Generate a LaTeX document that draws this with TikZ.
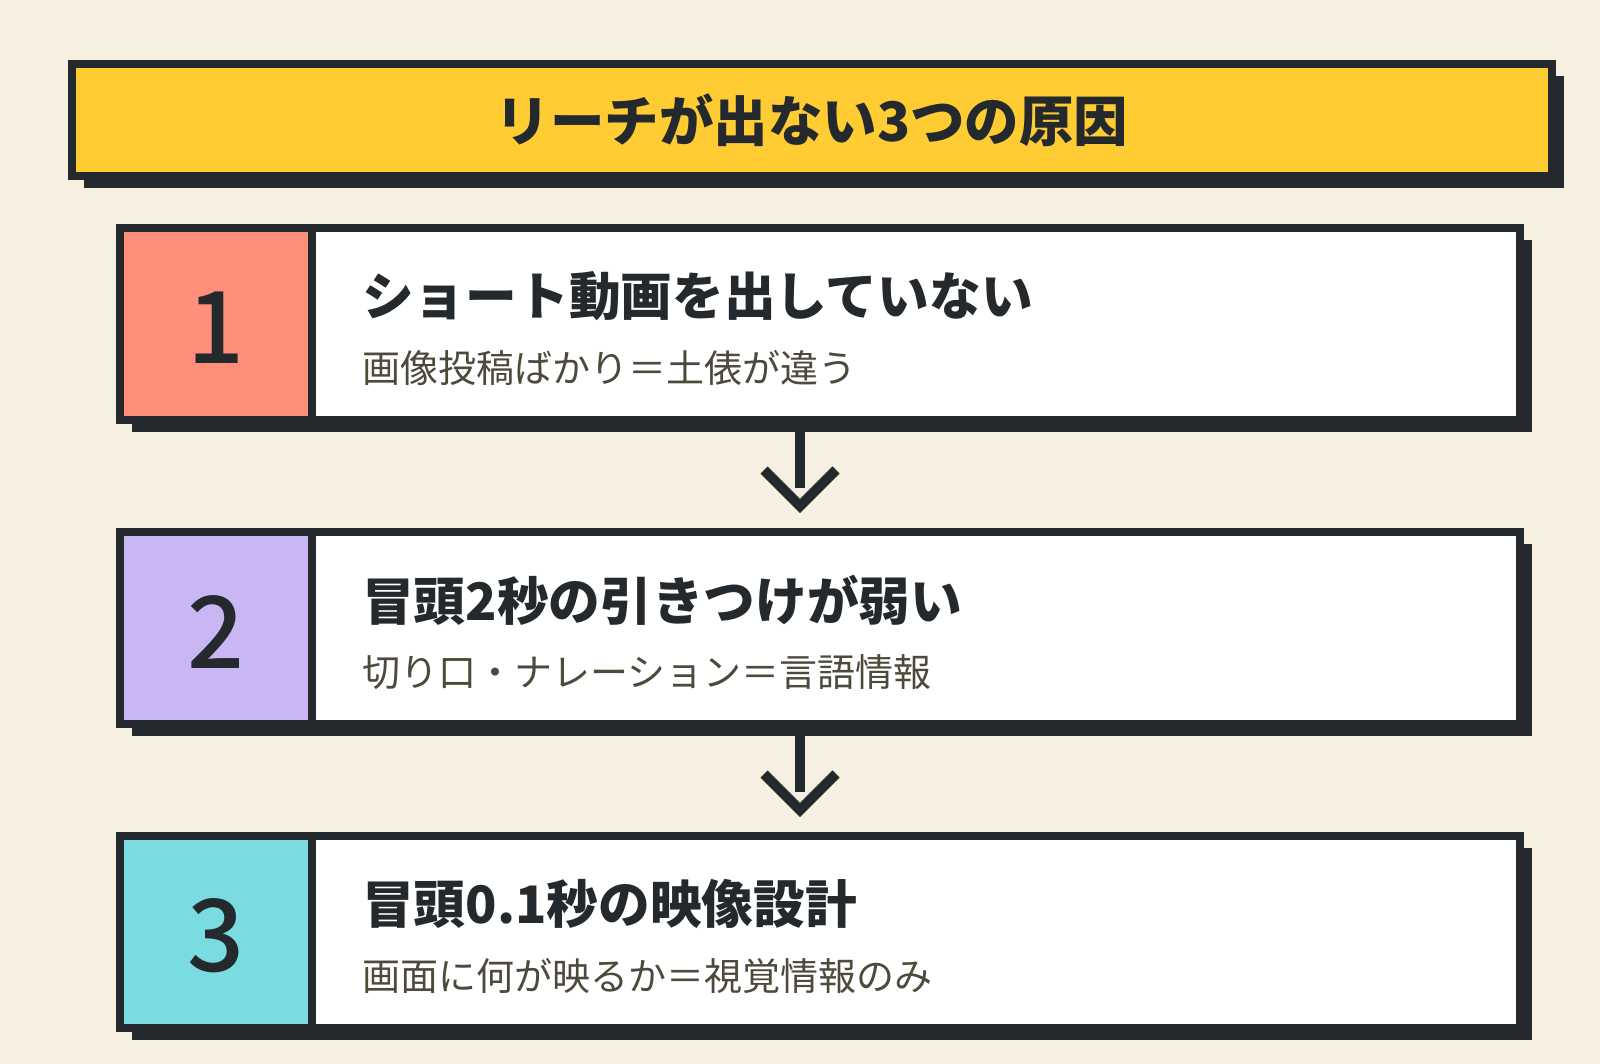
\documentclass[tikz,border=0pt]{standalone}
\usepackage{fontspec}
\usetikzlibrary{calc}
\setmainfont{Noto Sans CJK JP}
\newfontfamily\jp{Noto Sans CJK JP}
\newfontfamily\jpm{Noto Sans CJK JP}[UprightFont={* Medium}]
\definecolor{bg}{HTML}{F7F0E1}
\definecolor{ink}{HTML}{24292D}
\definecolor{ttl}{HTML}{FFCC33}
\definecolor{sub}{HTML}{4D4A3C}
\definecolor{cA}{HTML}{FF8E7B}
\definecolor{cB}{HTML}{C8B7F3}
\definecolor{cC}{HTML}{7ADBE0}
\tikzset{
  stepbox/.style={draw=ink, line width=8pt, fill=white, minimum width=1400pt, minimum height=192pt, inner sep=0pt},
  titlebox/.style={draw=ink, line width=8pt, fill=ttl, minimum width=1480pt, minimum height=112pt, inner sep=0pt,
    font=\jp\bfseries\fontsize{54.5pt}{60pt}\selectfont, text=ink},
  headtxt/.style={anchor=west, inner sep=0pt, font=\jp\bfseries\fontsize{51.7pt}{60pt}\selectfont, text=ink},
  subtxt/.style={anchor=west, inner sep=0pt, font=\jp\fontsize{38pt}{44pt}\selectfont, text=sub},
  numtxt/.style={inner sep=0pt, font=\jpm\fontsize{100pt}{110pt}\selectfont, text=ink},
  shadow/.style={fill=ink},
  flow/.style={draw=ink, line width=10pt},
}
\begin{document}
\begin{tikzpicture}[x=1pt, y=-1pt]
\fill[bg] (0,0) rectangle (1600,1064);
\useasboundingbox (0,0) rectangle (1600,1064);
% title
\fill[shadow] (84,76) rectangle (1564,188);
\node[titlebox] (title) at (812,120) {リーチが出ない3つの原因};
% steps
\foreach \i/\col/\num/\head/\sub in {
  1/cA/1/ショート動画を出していない/画像投稿ばかり＝土俵が違う,
  2/cB/2/冒頭2秒の引きつけが弱い/切り口・ナレーション＝言語情報,
  3/cC/3/冒頭0.1秒の映像設計/画面に何が映るか＝視覚情報のみ}{
  \pgfmathsetmacro{\t}{224+304*(\i-1)}
  \fill[shadow] (132,\t+16) rectangle (1532,\t+208);
  \node[stepbox] (box\i) at (820,\t+100) {};
  \fill[\col] (124,\t+8) rectangle (308,\t+192);
  \draw[ink, line width=8pt] (312,\t+4) -- (312,\t+196);
  \node[numtxt] (num\i) at (216,\t+104) {\num};
  \node[headtxt] (head\i) at (362,\t+72) {\head};
  \node[subtxt] (sub\i) at (362,\t+144) {\sub};
}
% arrows
\coordinate (a1s) at (800,432);
\coordinate (a1e) at (800,488);
\coordinate (a1t) at (800,506);
\coordinate (a2s) at (800,736);
\coordinate (a2e) at (800,792);
\coordinate (a2t) at (800,810);
\draw[flow] (a1s) -- (a1e);
\draw[flow, line join=miter] ($(a1t)+(-36,-36)$) -- (a1t) -- ($(a1t)+(36,-36)$);
\draw[flow] (a2s) -- (a2e);
\draw[flow, line join=miter] ($(a2t)+(-36,-36)$) -- (a2t) -- ($(a2t)+(36,-36)$);
\end{tikzpicture}
\end{document}
